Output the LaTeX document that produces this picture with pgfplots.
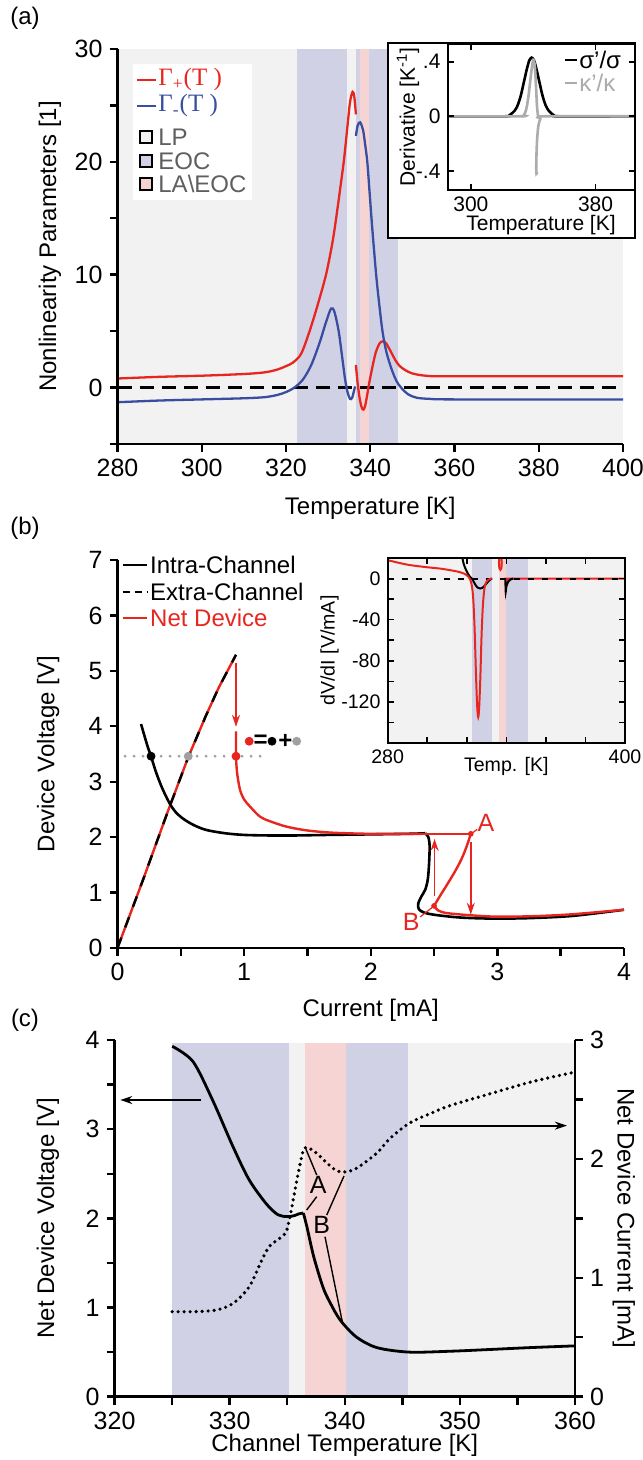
\documentclass[border=0pt]{standalone}
\usepackage{fontspec}
\setmainfont{Liberation Sans}
\newfontfamily\serifG{Liberation Serif}
\usepackage{pgfplots}
\pgfplotsset{compat=1.18}
\usetikzlibrary{arrows.meta}

\definecolor{lpgray}{RGB}{242,242,242}
\definecolor{eoc}{RGB}{209,209,230}
\definecolor{laeoc}{RGB}{246,212,212}
\definecolor{cred}{RGB}{232,38,32}
\definecolor{cblue}{RGB}{58,78,160}
\definecolor{kgray}{RGB}{172,172,172}
\definecolor{dotgray}{RGB}{160,160,160}
\definecolor{txtgray}{RGB}{95,95,95}

\pgfplotsset{
  panel/.style={scale only axis, anchor=south west, axis on top,
    clip mode=individual,
    axis x line*=bottom, axis y line*=left,
    tick align=outside, major tick length=4pt,
    axis line style={line width=1.4pt},
    tick style={black,line width=1.2pt},
    /pgf/number format/assume math mode=true,
    tick label style={font=\fontsize{12.5}{14}\selectfont},
    label style={font=\fontsize{12}{14}\selectfont}},
  inset/.style={scale only axis, anchor=south west, axis on top,
    clip mode=individual,
    tick align=inside, major tick length=3pt,
    axis line style={line width=1pt},
    tick style={black,line width=0.8pt},
    /pgf/number format/assume math mode=true,
    tick label style={font=\fontsize{10.5}{12}\selectfont},
    label style={font=\fontsize{10.5}{12}\selectfont}},
  band/.style={draw=none,fill=#1},
}

\begin{document}
\begin{tikzpicture}
\useasboundingbox (0,0) rectangle (321pt,730pt);

% ---------------- (a) ----------------
\begin{axis}[panel, at={(58.75pt,508pt)}, width=252.75pt, height=197.5pt,
  xmin=280, xmax=400, ymin=-5, ymax=30,
  xtick={280,300,...,400}, ytick={-5,0,...,30}, yticklabels={,0,,10,,20,,30},
  xlabel={Temperature [K]}, ylabel={Nonlinearity Parameters [1]},
  xlabel style={at={(axis description cs:0.5,-0.162)},anchor=center},
  ylabel style={at={(axis description cs:-0.1335,0.5)},anchor=center}]
\addplot[band=lpgray] coordinates {(280,-5)(400,-5)(400,30)(280,30)};
\addplot[band=eoc] coordinates {(322.6,-5)(334.5,-5)(334.5,30)(322.6,30)};
\addplot[band=eoc] coordinates {(336.5,-5)(346.6,-5)(346.6,30)(336.5,30)};
\addplot[band=laeoc] coordinates {(337.6,-5)(339.75,-5)(339.75,30)(337.6,30)};
\addplot[black, line width=1.4pt, dash pattern=on 7pt off 4pt] coordinates {(280,0)(400,0)};
% Gamma+
\addplot[cred, line width=1.15pt, smooth] coordinates {(280,0.8)(290,0.95)(300,1.05)(310,1.2)(315,1.35)(318,1.6)(320,1.9)(321.6,2.2)(323.6,3.0)(325.6,5.0)(327.5,7.3)(329.5,10)(331,12.8)(331.9,15)(333,18)(333.8,20.3)(334.6,23.2)(335.2,25.3)(335.8,26.2)(336.2,25.8)(336.6,24.2)};
\addplot[cred, line width=1.15pt, smooth] coordinates {(336.6,2.0)(337.0,0.4)(337.5,-1.0)(338.0,-1.8)(338.4,-1.95)(338.8,-1.6)(339.3,-0.6)(339.7,0.3)(340.5,1.8)(341.3,3.1)(342.2,3.9)(343,4.1)(343.8,3.9)(345,3.1)(346,2.4)(347,1.9)(348.5,1.5)(350,1.25)(352,1.1)(355,1.0)(360,1.0)(400,1.0)};
% Gamma-
\addplot[cblue, line width=1.15pt, smooth] coordinates {(280,-1.3)(290,-1.15)(300,-1.05)(310,-0.95)(315,-0.85)(318,-0.65)(320,-0.4)(322,0)(324,0.7)(326,2.0)(328,4.0)(329.5,5.8)(330.7,7.0)(331.5,6.7)(332.5,5.0)(333.3,2.8)(334,0.8)(334.6,-0.4)(335.2,-1.0)(335.7,-0.9)(336.2,-0.2)(336.4,0.1)};
\addplot[cblue, line width=1.15pt, smooth] coordinates {(336.6,22.3)(337.0,23.2)(337.6,23.5)(338.3,22.8)(338.8,21.5)(339.3,20)(339.9,17)(340.5,14)(341.4,10)(342.1,7.5)(342.9,5)(343.8,3.2)(345,1.7)(346.2,0.6)(347.3,0)(349,-0.6)(351,-0.9)(354,-1.0)(360,-1.05)(400,-1.05)};
\end{axis}
% legend (a)
\fill[white] (66.5pt,630pt) rectangle (126pt,698pt);
\draw[cred, line width=1pt] (68.5pt,690pt) -- (78pt,690pt);
\node[anchor=west, inner sep=0pt, text=cred, font=\serifG\fontsize{12.5}{14}\selectfont] at (79pt,690pt) {Γ\textsubscript{+}(T )};
\draw[cblue, line width=1pt] (68.5pt,677pt) -- (78pt,677pt);
\node[anchor=west, inner sep=0pt, text=cblue, font=\serifG\fontsize{12.5}{14}\selectfont] at (79pt,677pt) {Γ\textsubscript{-}(T )};
\foreach \yy/\cc/\tt in {661.5/lpgray/LP, 649.5/eoc/EOC, 638/laeoc/LA\textbackslash EOC}{
  \draw[fill=\cc, line width=0.8pt] (70pt,\yy pt-3pt) rectangle (76pt,\yy pt+3pt);
  \node[anchor=west, inner sep=0pt, text=txtgray, font=\fontsize{12}{13}\selectfont] at (79pt,\yy pt) {\tt};
}
% inset (a)
\draw[fill=white, line width=1pt] (194pt,611pt) rectangle (317.5pt,708.5pt);
\begin{axis}[inset, at={(223.75pt,635pt)}, width=93.5pt, height=73pt,
  xmin=285, xmax=405, ymin=-0.54, ymax=0.53,
  xtick={300,380}, ytick={-0.4,0,0.4}, yticklabels={-.4,0,.4},
  xlabel={Temperature [K]}, ylabel={Derivative [K\textsuperscript{-1}]},
  xlabel style={at={(axis description cs:0.5,-0.24)},anchor=center},
  ylabel style={at={(axis description cs:-0.211,0.5)},anchor=center}]
\addplot[black, line width=1.3pt, smooth] coordinates {(285,0)(322,0)(325,0.01)(328,0.04)(330,0.08)(332,0.15)(334,0.25)(336,0.35)(337.5,0.41)(339,0.43)(340.5,0.41)(342,0.35)(344,0.25)(346,0.15)(348,0.08)(350,0.04)(353,0.01)(356,0)(405,0)};
\addplot[kgray, line width=1.3pt, smooth] coordinates {(285,0)(332,0)(334,0.01)(335.5,0.05)(337,0.15)(338.5,0.30)(339.7,0.40)(340.4,0.41)(341.1,0.36)(341.8,0.22)(342.4,0.08)(343,0.01)(343.5,0)};
\addplot[kgray, line width=1.3pt, smooth] coordinates {(342.6,-0.41)(342.1,-0.42)(341.95,-0.38)(342.1,-0.28)(342.5,-0.17)(343.3,-0.07)(344.6,-0.02)(347,0)(405,0)};
\end{axis}
\draw[black, line width=1pt] (282.5pt,700pt) -- (288.5pt,700pt);
\node[anchor=west, inner sep=0pt, font=\fontsize{12}{13}\selectfont] at (289.5pt,700pt) {σ'/σ};
\draw[kgray, line width=1pt] (282.5pt,688.5pt) -- (288.5pt,688.5pt);
\node[anchor=west, inner sep=0pt, text=kgray, font=\fontsize{12}{13}\selectfont] at (289.5pt,688.5pt) {κ'/κ};
\node[font=\fontsize{12}{13}\selectfont] at (12.5pt,721pt) {(a)};

% ---------------- (b) ----------------
\begin{axis}[panel, at={(58.75pt,256pt)}, width=253.25pt, height=194pt,
  xmin=0, xmax=4, ymin=0, ymax=7,
  xtick={0,0.5,...,4}, xticklabels={0,,1,,2,,3,,4}, ytick={0,1,...,7},
  xlabel={Current [mA]}, ylabel={Device Voltage [V]},
  xlabel style={at={(axis description cs:0.5,-0.16)},anchor=center},
  ylabel style={at={(axis description cs:-0.137,0.5)},anchor=center}]
\addplot[dotgray, line width=1.6pt, line cap=round, dash pattern=on 0pt off 4.5pt] coordinates {(0.06,3.46)(1.16,3.46)};
\addplot[cred, line width=1.2pt] coordinates {(0,0)(0.2,1.22)(0.4,2.48)(0.56,3.45)(0.7,4.2)(0.8,4.7)(0.936,5.29)};
\addplot[black, line width=1.2pt, dash pattern=on 5.5pt off 5.5pt] coordinates {(0,0)(0.2,1.22)(0.4,2.48)(0.56,3.45)(0.7,4.2)(0.8,4.7)(0.936,5.29)};
\addplot[black, line width=1.3pt, smooth] coordinates {(0.186,4.04)(0.21,3.85)(0.24,3.62)(0.265,3.46)(0.3,3.2)(0.35,2.9)(0.409,2.62)(0.46,2.45)(0.52,2.33)(0.6,2.22)(0.7,2.13)(0.85,2.07)(1.0,2.04)(1.2,2.03)(1.4,2.03)(1.66,2.04)(2.0,2.05)(2.3,2.06)(2.43,2.07)};
\addplot[black, line width=1.3pt, smooth] coordinates {(2.43,2.07)(2.455,2.0)(2.465,1.83)(2.46,1.5)(2.45,1.23)(2.43,1.05)(2.40,0.93)(2.375,0.80)(2.38,0.70)(2.42,0.64)(2.5,0.60)(2.65,0.56)(2.79,0.54)(3.0,0.53)(3.27,0.54)(3.6,0.58)(4.0,0.69)};
\addplot[cred, line width=1.2pt, smooth] coordinates {(0.936,3.91)(0.936,3.46)(0.945,3.15)(0.968,2.85)(1.0,2.68)(1.047,2.55)(1.125,2.37)(1.2,2.29)(1.334,2.19)(1.5,2.12)(1.7,2.08)(2.0,2.06)(2.4,2.06)};
\addplot[cred, line width=1.2pt] coordinates {(2.4,2.06)(2.79,2.06)};
\addplot[cred, line width=1.2pt, smooth] coordinates {(2.79,2.06)(2.76,1.85)(2.72,1.62)(2.67,1.40)(2.61,1.17)(2.55,0.95)(2.5,0.76)};
\addplot[cred, line width=1.2pt, smooth] coordinates {(2.5,0.76)(2.53,0.68)(2.6,0.63)(2.79,0.59)(3.0,0.565)(3.3,0.575)(3.6,0.61)(4.0,0.69)};
\addplot[only marks, mark=*, mark size=2pt, black] coordinates {(0.265,3.46)(1.22,3.73)};
\addplot[only marks, mark=*, mark size=2pt, dotgray, mark options={fill=dotgray}] coordinates {(0.559,3.46)(1.415,3.73)};
\addplot[only marks, mark=*, mark size=2pt, cred, mark options={fill=cred}] coordinates {(0.936,3.46)(1.04,3.73)};
\addplot[only marks, mark=*, mark size=1.2pt, cred, mark options={fill=cred}] coordinates {(2.79,2.06)(2.5,0.76)};
\node[font=\bfseries\fontsize{12}{12}\selectfont, inner sep=0pt] at (axis cs:1.13,3.73) {=};
\node[font=\bfseries\fontsize{12}{12}\selectfont, inner sep=0pt] at (axis cs:1.325,3.73) {+};
\draw[cred, line width=0.9pt, -{Stealth[length=6pt,width=4pt]}] (axis cs:0.936,5.14) -- (axis cs:0.936,3.99);
\draw[cred, line width=0.9pt, -{Stealth[length=6pt,width=4pt]}] (axis cs:2.504,0.93) -- (axis cs:2.504,1.97);
\draw[cred, line width=0.9pt, -{Stealth[length=6pt,width=4pt]}] (axis cs:2.79,1.92) -- (axis cs:2.79,0.60);
\draw[cred, line width=0.6pt] (axis cs:2.84,2.14) -- (axis cs:2.8,2.07);
\draw[cred, line width=0.6pt] (axis cs:2.39,0.56) -- (axis cs:2.49,0.74);
\node[text=cred, font=\fontsize{12.5}{14}\selectfont] at (axis cs:2.91,2.26) {A};
\node[text=cred, font=\fontsize{12.5}{14}\selectfont] at (axis cs:2.32,0.47) {B};
% legend (b)
\draw[black, line width=1pt] (axis cs:0.04,6.91) -- (axis cs:0.235,6.91);
\node[anchor=west, inner sep=0pt, font=\fontsize{12}{13}\selectfont] at (axis cs:0.255,6.91) {Intra-Channel};
\draw[black, line width=1pt, dash pattern=on 3.5pt off 2.5pt] (axis cs:0.04,6.42) -- (axis cs:0.235,6.42);
\node[anchor=west, inner sep=0pt, font=\fontsize{12}{13}\selectfont] at (axis cs:0.255,6.42) {Extra-Channel};
\draw[cred, line width=1pt] (axis cs:0.04,5.95) -- (axis cs:0.235,5.95);
\node[anchor=west, inner sep=0pt, text=cred, font=\fontsize{12}{13}\selectfont] at (axis cs:0.255,5.95) {Net Device};
\end{axis}
% inset (b)
\begin{axis}[inset, at={(193.8pt,358.5pt)}, width=118.7pt, height=92.5pt,
  xmin=280, xmax=400, ymin=-160, ymax=20,
  xtick={280,300,...,400}, xticklabels={280,,,,,,400},
  ytick={-140,-120,...,0}, yticklabels={,-120,,-80,,-40,,0},
  tick label style={font=\fontsize{9.8}{11}\selectfont},
  label style={font=\fontsize{9.8}{11}\selectfont},
  xlabel={Temp. [K]}, ylabel={dV/dI [V/mA]},
  xlabel style={at={(axis description cs:0.5,-0.125)},anchor=center},
  ylabel style={at={(axis description cs:-0.245,0.5)},anchor=center}]
\addplot[band=lpgray] coordinates {(280,-160)(400,-160)(400,20)(280,20)};
\addplot[band=eoc] coordinates {(322.6,-160)(332.8,-160)(332.8,20)(322.6,20)};
\addplot[band=laeoc] coordinates {(336.2,-160)(339.7,-160)(339.7,20)(336.2,20)};
\addplot[band=eoc] coordinates {(339.7,-160)(351,-160)(351,20)(339.7,20)};
\addplot[cred, line width=1pt, smooth] coordinates {(339.7,-9)(340,-5)(340.6,-2)(341.5,-0.5)(343,0)(400,0)};
\addplot[black, line width=1pt, dash pattern=on 3pt off 4pt] coordinates {(280,0)(400,0)};
\addplot[black, line width=1pt, smooth] coordinates {(317.6,22)(318.5,14)(319.5,9)(320.5,5)(321.5,2)(322.6,0)(323.5,-3)(324.5,-6.5)(325.5,-8.8)(326.8,-9.7)(328,-9)(329.5,-6)(331,-2.5)(332.6,0)};
\addplot[black, line width=1pt, smooth] coordinates {(339.5,-1)(339.6,-7)(339.7,-13)(340,-8)(341,-3)(342,-1)(343.5,0)};
\addplot[cred, line width=1pt, smooth] coordinates {(280,17.9)(290,13.5)(300,11)(306.5,9.7)(312,8)(316,6.5)(319,4.5)(320.5,2.5)(321.5,0)(322.5,-6)(323.3,-20)(324.0,-50)(324.7,-95)(325.3,-125)(325.8,-135)(326.3,-125)(326.9,-95)(327.5,-55)(328.2,-25)(329,-9)(330,-3)(331.5,-0.5)(333,0)};
\addplot[cred, line width=1pt, smooth] coordinates {(336.4,24)(336.3,15)(336.5,10)(337,8.5)(337.5,10)(337.7,15)(337.6,24)};
\end{axis}
\node[font=\fontsize{12}{13}\selectfont] at (12.5pt,466pt) {(b)};

% ---------------- (c) ----------------
\begin{axis}[panel, at={(57.3pt,31.65pt)}, width=230.2pt, height=178.35pt,
  xmin=320, xmax=360, ymin=0, ymax=4,
  xtick={320,325,...,360}, xticklabels={320,,330,,340,,350,,360},
  ytick={0,0.5,...,4}, yticklabels={0,,1,,2,,3,,4},
  xlabel={Channel Temperature [K]}, ylabel={Net Device Voltage [V]},
  xlabel style={at={(axis description cs:0.5,-0.135)},anchor=center},
  ylabel style={at={(axis description cs:-0.1447,0.5)},anchor=center}]
\addplot[band=eoc] coordinates {(325,0)(335.15,0)(335.15,3.97)(325,3.97)};
\addplot[band=lpgray] coordinates {(335.15,0)(336.5,0)(336.5,3.97)(335.15,3.97)};
\addplot[band=laeoc] coordinates {(336.5,0)(340.1,0)(340.1,3.97)(336.5,3.97)};
\addplot[band=eoc] coordinates {(340.1,0)(345.5,0)(345.5,3.97)(340.1,3.97)};
\addplot[band=lpgray] coordinates {(345.5,0)(360,0)(360,3.97)(345.5,3.97)};
\addplot[black, line width=1.4pt, smooth] coordinates {(325,3.93)(326.8,3.76)(328.5,3.33)(330.3,2.80)(331.7,2.43)(333.2,2.16)(334.2,2.04)(335.0,2.02)(335.6,2.03)(336.0,2.05)(336.4,2.06)};
\addplot[black, line width=1.4pt, smooth] coordinates {(336.4,2.06)(336.7,1.91)(337.3,1.57)(338.1,1.23)(338.7,1.06)(339.6,0.86)(341,0.67)(342.8,0.55)(345.6,0.50)(349.2,0.51)(352.7,0.53)(356,0.55)(360,0.57)};
\draw[black, line width=0.9pt, -{Stealth[length=6pt,width=4pt]}] (axis cs:327.5,3.327) -- (axis cs:320.5,3.327);
\draw[black, line width=0.9pt, -{Stealth[length=6pt,width=4pt]}] (axis cs:346.5,3.04) -- (axis cs:359.3,3.04);
\draw[black, line width=0.7pt] (axis cs:337.56,2.486) -- (axis cs:336.63,2.774);
\draw[black, line width=0.7pt] (axis cs:337.56,2.243) -- (axis cs:336.69,2.094);
\draw[black, line width=0.7pt] (axis cs:338.43,2.037) -- (axis cs:339.93,2.475);
\draw[black, line width=0.7pt] (axis cs:338.28,1.794) -- (axis cs:339.84,0.804);
\node[font=\fontsize{12.5}{14}\selectfont] at (axis cs:337.7,2.37) {A};
\node[font=\fontsize{12.5}{14}\selectfont] at (axis cs:338.0,1.93) {B};
\end{axis}
\begin{axis}[panel, at={(57.3pt,31.65pt)}, width=230.2pt, height=178.35pt,
  xmin=320, xmax=360, ymin=0, ymax=3,
  axis x line=none, axis y line*=right,
  ytick={0,0.5,...,3}, yticklabels={0,,1,,2,,3},
  ylabel={Net Device Current [mA]},
  ylabel style={at={(axis description cs:1.106,0.5)},anchor=center,rotate=180}]
\addplot[black, line width=1.8pt, line cap=round, dash pattern=on 0pt off 3pt, smooth] coordinates {(325,0.715)(327,0.715)(328.9,0.73)(330.3,0.785)(331.7,0.925)(332.8,1.15)(333.5,1.27)(334.8,1.37)(335.2,1.5)(335.6,1.7)(336.0,1.9)(336.5,2.09)(337.4,2.06)(338.5,1.96)(339.3,1.90)(340.0,1.89)(341,1.92)(342.8,2.05)(343.9,2.17)(345.6,2.30)(347.4,2.38)(349.2,2.45)(352.7,2.55)(356.3,2.65)(360,2.73)};
\end{axis}
\node[font=\fontsize{12}{13}\selectfont] at (12.5pt,220pt) {(c)};
\end{tikzpicture}
\end{document}
